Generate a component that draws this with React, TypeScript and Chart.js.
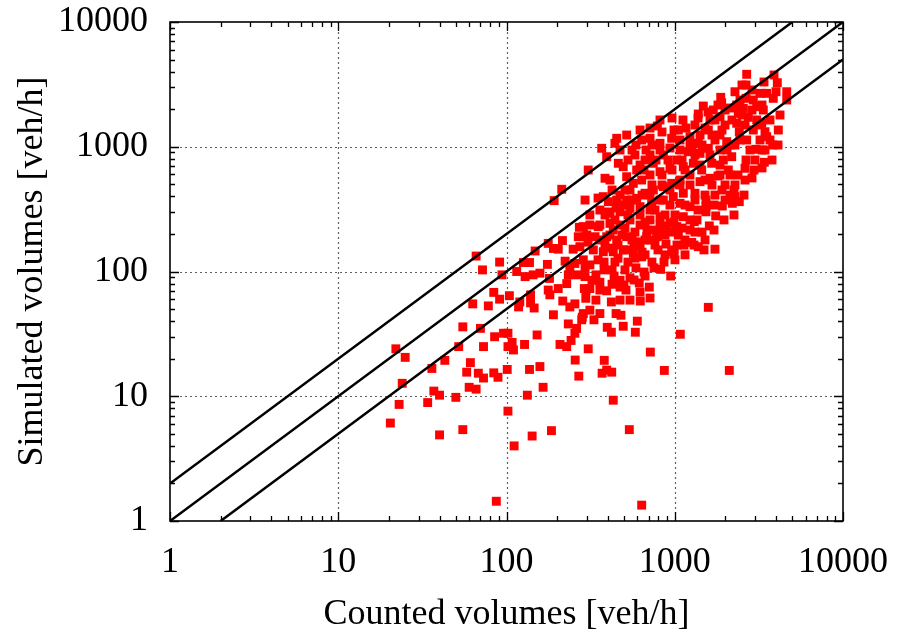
import React, { useEffect, useRef } from 'react';
import { Chart, registerables } from 'chart.js';

Chart.register(...registerables);

// [counted volume, simulated volume] in veh/h
const countedVsSimulated: [number, number][] = [
  [213, 456], [192, 370], [66, 133], [91, 119], [72, 103], [94, 94], [84, 68], [91, 60], [104, 64], [63, 55],
  [78, 53], [55, 36], [70, 35], [85, 30], [96, 32], [102, 32], [108, 27], [102, 25], [110, 23.5], [128, 26],
  [152, 31], [73, 25], [52, 25], [22, 24], [25, 20.5], [43, 19.4], [36, 16.7], [61, 18.6], [58, 15.6], [68, 15.3],
  [73, 14], [84, 15.4], [89, 14.2], [101, 16.4], [137, 16.4], [158, 17.3], [118, 52], [120, 57], [139, 65], [139, 56],
  [146, 51], [115, 100], [129, 91], [126, 118], [137, 118], [144, 94], [158, 97], [175, 114], [180, 88], [148, 146],
  [177, 168], [190, 153], [203, 151], [215, 177], [249, 151], [271, 226], [267, 190], [300, 196], [223, 121], [238, 109],
  [255, 116], [286, 124], [293, 106], [233, 94], [261, 94], [293, 91], [228, 80], [203, 73], [177, 71], [181, 65],
  [216, 58], [238, 52], [255, 55], [290, 73], [296, 61], [286, 46], [280, 41], [190, 45], [233, 38], [261, 35],
  [255, 32], [242, 28], [208, 26], [228, 25], [306, 24], [256, 19.5], [269, 14.5],
  [24, 12.7], [23, 8.6], [20.4, 6.1], [37, 11], [40, 10.2], [34, 8.9], [50, 9.8], [40, 4.9], [55, 5.4], [60, 11.8],
  [66, 11.4], [102, 7.6], [111, 4.0], [133, 10.2], [165, 11.8], [142, 4.8], [185, 5.3], [87, 1.44],
  [636, 1.34], [537, 5.4], [431, 9.3], [867, 16.1], [2110, 16.1], [370, 15.3], [394, 16.2], [422, 15.6], [381, 19.4], [716, 22.6],
  [1079, 31.4], [1583, 51.6], [583, 32.6], [420, 32.6], [397, 35.7], [494, 36.4], [599, 40], [282, 43], [313, 49], [331, 41],
  [359, 46], [448, 46], [479, 44.6], [420, 57], [624, 58], [313, 73], [359, 71], [394, 70], [473, 75], [513, 71],
  [706, 75], [615, 81], [946, 92], [825, 104], [666, 92], [959, 144], [990, 138], [1261, 171], [1380, 158], [1734, 151],
  [1605, 232], [1050, 196], [1307, 251], [1751, 279], [1917, 335], [2198, 352], [2419, 363], [1534, 335], [1534, 301],
  [2677, 3808], [2652, 3126], [3890, 3760], [4070, 3262], [4630, 2760], [4630, 2370], [3850, 2445], [3520, 2680], [3210, 2680], [2280, 2760],
  [1876, 2490], [1900, 2255], [2652, 2445], [2930, 2370], [1478, 2120], [1695, 1970], [1380, 1830], [1858, 1740], [2335, 2160], [2555, 2030],
  [3070, 2094], [3360, 1970], [2386, 1854], [2736, 1722], [3070, 1640], [3287, 1542], [2335, 1542], [2931, 1362], [2419, 1320], [4126, 1362],
  [3439, 1320], [3520, 1204], [2677, 1133], [3040, 954], [3821, 1033], [3406, 751], [2616, 672], [2250, 450], [2280, 398],
  [788, 1467], [518, 1242], [452, 1169], [441, 1066], [368, 972], [394, 832], [306, 651], [385, 559], [412, 541], [462, 737],
  [494, 692], [580, 859], [636, 1133], [713, 1169], [817, 1066], [959, 1169], [1050, 1362], [1232, 1204], [1380, 1066], [1583, 1362],
  [1858, 1242], [2036, 1098], [2280, 1033], [1858, 942], [1583, 972], [1413, 886], [1204, 912], [1075, 942], [1027, 783], [855, 859],
  [746, 737], [666, 783], [594, 651], [518, 575], [567, 509], [636, 541], [713, 594], [817, 631], [937, 672], [1124, 692],
  [1289, 737], [1446, 651], [1658, 737], [1944, 783], [2181, 832], [2081, 651], [1858, 594], [1620, 559], [1413, 525], [1232, 494],
  [1075, 541], [959, 509], [855, 479], [746, 450], [666, 424], [594, 386], [518, 374], [452, 374], [403, 363], [376, 398],
  [359, 311], [412, 293], [473, 301], [542, 321], [622, 331], [729, 352], [855, 374], [980, 398], [1124, 424], [1319, 424],
  [1075, 352], [1232, 331], [1124, 275], [1027, 229], [937, 243], [817, 275], [713, 259], [622, 236], [542, 259], [473, 236],
  [412, 243], [351, 229], [313, 236], [286, 229], [293, 190], [336, 190], [394, 190], [452, 179], [518, 190], [594, 173],
  [681, 190], [781, 190], [855, 215], [273, 158], [328, 149], [376, 144], [431, 144], [494, 149], [567, 140], [636, 131],
  [305, 172], [350, 124],
  [313, 113], [340, 94], [380, 119], [424, 103], [460, 128], [527, 119], [588, 107], [666, 136], [732, 119], [795, 149],
  [887, 166], [622, 163], [557, 179], [486, 196], [431, 215], [359, 179], [412, 154], [473, 85], [542, 89], [424, 79],
  [359, 82], [322, 85], [684, 215], [763, 311], [875, 284], [937, 341], [527, 284], [460, 341], [385, 284], [313, 284],
  [713, 410], [840, 494], [506, 450], [424, 450], [350, 388], [293, 374], [817, 236], [963, 207], [1031, 163], [1151, 136],
  [1232, 215], [1356, 259], [1452, 207], [1513, 410], [1665, 494], [1807, 583], [1990, 494], [2130, 594], [2044, 942], [1734, 1133],
  [1513, 1413], [1319, 1494], [1119, 1639], [963, 1700], [817, 1639], [713, 1413], [622, 1362], [557, 942], [473, 942], [675, 942],
  [774, 783], [912, 783],
  [385, 163], [441, 119], [506, 103], [580, 128], [666, 179], [763, 163], [875, 136], [1003, 124], [1151, 179], [1319, 207],
  [1513, 179], [622, 284], [713, 311], [817, 374], [937, 450], [1075, 494], [1232, 594], [1413, 714], [1620, 859], [1858, 714],
  [2130, 1033], [2442, 1133], [2801, 942], [3212, 1133], [3683, 1639], [4223, 1797], [3212, 1494], [2616, 1494], [1990, 1494], [1734, 1639],
  [1413, 1242], [1232, 1033], [1075, 1133], [937, 977], [817, 942], [713, 859], [622, 714], [542, 450], [473, 410], [441, 259],
  [506, 223], [580, 207], [666, 249], [763, 215], [875, 196], [1003, 284], [1151, 341], [1319, 374], [1513, 541], [1734, 410],
  [1990, 374], [2280, 494], [2616, 541], [2999, 783], [3439, 942], [2442, 2370], [1990, 1970], [1620, 1639], [1319, 859], [1151, 651],
  [412, 196], [460, 163], [513, 149], [573, 160], [639, 143], [713, 179], [795, 193], [887, 232], [990, 249], [1105, 223],
  [1232, 259], [1375, 311], [1534, 374], [1711, 341], [1909, 450], [2130, 410], [2376, 594], [2652, 783], [2958, 651], [3301, 942],
  [3683, 1133], [4110, 1033], [359, 236], [401, 300], [448, 323], [499, 341], [557, 374], [639, 410], [732, 494], [840, 594],
  [963, 651], [1105, 783], [1266, 942], [1452, 1033], [1665, 1242], [1909, 1362], [2189, 1639], [2510, 1797], [2878, 1970], [3301, 2161],
  [380, 103], [436, 92], [499, 78], [573, 85.5], [657, 99], [753, 107], [863, 119], [990, 149], [1135, 163], [1302, 163],
  [1492, 149], [1711, 215], [1962, 259], [2250, 284], [2580, 410], [2878, 562], [3301, 676], [3785, 783], [542, 59], [622, 68.5],
  [713, 61.3], [473, 59], [340, 59], [297, 71], [527, 783], [588, 1033], [657, 651], [732, 1033], [840, 1313], [990, 1362],
  [1167, 1413], [1375, 1700], [1577, 1899], [1807, 2161], [2130, 2044], [2510, 3126], [2878, 2851], [3392, 3304], [3998, 2763],
];

// reference lines: simulated = 2 x counted, = counted, = counted / 2
const upperLineX = [1, 5000];
const upperLineY = [2, 10000];
const equalLineX = [1, 10000];
const equalLineY = [1, 10000];
const lowerLineX = [2, 10000];
const lowerLineY = [1, 5000];

const axisMin = 1;
const axisMax = 10000;
const majorTickValues = [1, 10, 100, 1000, 10000];
const minorTickMultipliers = [2, 3, 4, 5, 6, 7, 8, 9];

const minorTickValues: number[] = [];
for (const m of majorTickValues.slice(0, -1)) {
  for (const k of minorTickMultipliers) minorTickValues.push(m * k);
}
const allTickValues = [...majorTickValues, ...minorTickValues].sort((a, b) => a - b);

const FONT = '"Liberation Serif", "Times New Roman", serif';

const toPoints = (xs: number[], ys: number[]) => xs.map((x, i) => ({ x, y: ys[i] }));

const gnuplotFrame = {
  id: 'gnuplotFrame',
  beforeDatasetsDraw(chart: any) {
    const { ctx, chartArea: a, scales } = chart;
    const x = scales.x;
    const y = scales.y;
    ctx.save();
    ctx.strokeStyle = '#606060';
    ctx.lineWidth = 1.2;
    ctx.setLineDash([2, 3]);
    for (const v of majorTickValues) {
      if (v <= axisMin || v >= axisMax) continue;
      const px = Math.round(x.getPixelForValue(v)) + 0.5;
      ctx.beginPath();
      ctx.moveTo(px, a.top);
      ctx.lineTo(px, a.bottom);
      ctx.stroke();
      const py = Math.round(y.getPixelForValue(v)) + 0.5;
      ctx.beginPath();
      ctx.moveTo(a.left, py);
      ctx.lineTo(a.right, py);
      ctx.stroke();
    }
    ctx.restore();
  },
  afterDatasetsDraw(chart: any) {
    const { ctx, chartArea: a, scales } = chart;
    const x = scales.x;
    const y = scales.y;
    ctx.save();
    ctx.setLineDash([]);
    ctx.strokeStyle = '#000';
    ctx.lineWidth = 1.3;
    for (const v of allTickValues) {
      const len = majorTickValues.includes(v) ? 9 : 5;
      const px = Math.round(x.getPixelForValue(v)) + 0.5;
      ctx.beginPath();
      ctx.moveTo(px, a.bottom);
      ctx.lineTo(px, a.bottom - len);
      ctx.moveTo(px, a.top);
      ctx.lineTo(px, a.top + len);
      ctx.stroke();
      const py = Math.round(y.getPixelForValue(v)) + 0.5;
      ctx.beginPath();
      ctx.moveTo(a.left, py);
      ctx.lineTo(a.left + len, py);
      ctx.moveTo(a.right, py);
      ctx.lineTo(a.right - len, py);
      ctx.stroke();
    }
    ctx.lineWidth = 1.6;
    ctx.strokeRect(a.left, a.top, a.right - a.left, a.bottom - a.top);
    ctx.restore();
  },
};

const tickLabel = (v: any) => (majorTickValues.includes(Number(v)) ? String(Number(v)) : '');

export default function App() {
  const ref = useRef<HTMLCanvasElement>(null);

  useEffect(() => {
    document.body.style.margin = '0';
    const lineStyle = {
      borderColor: '#000',
      borderWidth: 2.5,
      pointRadius: 0,
      showLine: true,
      fill: false,
      order: 0,
    };
    const chart = new Chart(ref.current as HTMLCanvasElement, {
      type: 'scatter',
      data: {
        datasets: [
          { ...lineStyle, data: toPoints(upperLineX, upperLineY) },
          { ...lineStyle, data: toPoints(equalLineX, equalLineY) },
          { ...lineStyle, data: toPoints(lowerLineX, lowerLineY) },
          {
            data: countedVsSimulated.map(([cx, sy]) => ({ x: cx, y: sy })),
            pointStyle: 'rect',
            pointRadius: 6.3,
            pointBorderWidth: 0,
            borderWidth: 0,
            backgroundColor: '#ff0000',
            pointBackgroundColor: '#ff0000',
            order: 1,
          },
        ],
      } as any,
      options: {
        animation: false,
        responsive: false,
        events: [],
        layout: { padding: { top: 22, right: 56, left: 0, bottom: 0 } },
        plugins: { legend: { display: false }, tooltip: { enabled: false } },
        scales: {
          x: {
            type: 'logarithmic',
            min: axisMin,
            max: axisMax,
            afterBuildTicks: (s: any) => {
              s.ticks = allTickValues.map((value) => ({ value }));
            },
            afterFit: (s: any) => {
              s.height = 118;
              s.paddingLeft = 0;
              s.paddingRight = 0;
            },
            grid: { display: false, drawTicks: false },
            border: { display: false },
            ticks: {
              autoSkip: false,
              maxRotation: 0,
              padding: 20,
              color: '#000',
              font: { family: FONT, size: 36 },
              callback: tickLabel,
            },
            title: {
              display: true,
              text: 'Counted volumes [veh/h]',
              color: '#000',
              font: { family: FONT, size: 36 },
              padding: { top: 0, bottom: 3 },
            },
          },
          y: {
            type: 'logarithmic',
            min: axisMin,
            max: axisMax,
            afterBuildTicks: (s: any) => {
              s.ticks = allTickValues.map((value) => ({ value }));
            },
            afterFit: (s: any) => {
              s.width = 170;
              s.paddingTop = 0;
              s.paddingBottom = 0;
            },
            grid: { display: false, drawTicks: false },
            border: { display: false },
            ticks: {
              autoSkip: false,
              padding: 22,
              color: '#000',
              font: { family: FONT, size: 36 },
              callback: tickLabel,
            },
            title: {
              display: true,
              text: 'Simulated volumes [veh/h]',
              color: '#000',
              font: { family: FONT, size: 36 },
              padding: { top: 11, bottom: 0 },
            },
          },
        },
      } as any,
      plugins: [gnuplotFrame],
    });
    return () => chart.destroy();
  }, []);

  return (
    <div style={{ position: 'absolute', left: 0, top: 0, width: 899, height: 639, background: '#fff' }}>
      <canvas ref={ref} width={899} height={639} style={{ display: 'block', width: 899, height: 639 }} />
    </div>
  );
}
